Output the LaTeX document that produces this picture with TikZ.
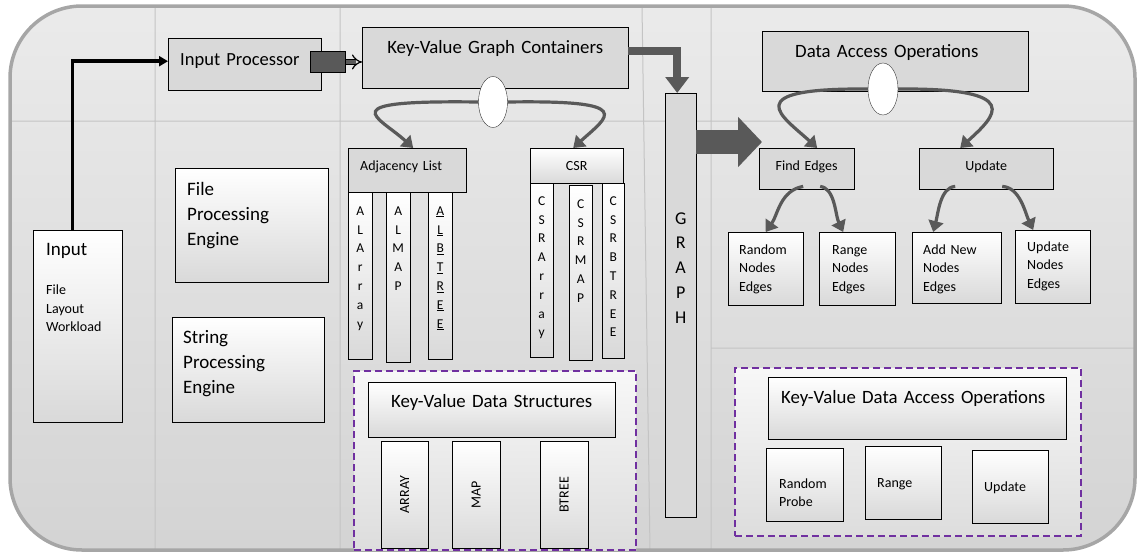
\documentclass[tikz,border=0pt]{standalone}
\usepackage{fontspec}
\setmainfont{Carlito}
\usepackage{graphicx}
\usetikzlibrary{arrows.meta,shapes.geometric}
\definecolor{Frame}{HTML}{A6A6A6}
\definecolor{Grid}{HTML}{C4C4C4}
\definecolor{Panel}{HTML}{D9D9D9}
\definecolor{Slate}{HTML}{595959}
\definecolor{Violet}{HTML}{7030A0}
\tikzset{
  greybox/.style={draw=black, fill=Panel, anchor=north west, inner sep=0pt, align=center},
  glossbox/.style={draw=black, top color=white, bottom color=Panel, anchor=north west,
    inner sep=0pt, align=center},
  groupbox/.style={draw=Violet, line width=2pt, dash pattern=on 7pt off 4pt,
    top color=white!97!black, bottom color=Panel!90, anchor=north west},
  oval/.style={ellipse, draw=black!80, fill=white, inner sep=0pt},
  plug/.style={draw=black, fill=Slate, anchor=north west, line width=0.9pt},
  headfont/.style={font=\fontsize{18.8}{22}\selectfont},
  enginefont/.style={font=\fontsize{19}{25}\selectfont},
  leaffont/.style={font=\fontsize{14}{18.5}\selectfont},
  tabfont/.style={font=\fontsize{14}{16}\selectfont},
  stackfont/.style={font=\fontsize{13.5}{18.8}\selectfont},
  inkflow/.style={-{Triangle[width=10pt,length=9pt]}, line width=3.5pt, draw=black},
  plugflow/.style={-{Implies}, double=Slate, double distance=4pt, line width=1.2pt, draw=black},
  heavyflow/.style={-{Triangle[width=23pt,length=16pt]}, line width=8pt, draw=Slate},
  blockflow/.style={-{Triangle[width=49pt,length=24pt]}, line width=24pt, draw=Slate},
  bendflow/.style={-{Triangle[width=15pt,length=11pt]}, line width=3.2pt, draw=Slate}
}
\begin{document}
\begin{tikzpicture}[x=1pt,y=-1pt]
  \useasboundingbox (0,0) rectangle (1144,557);
  % frame and grid
  \shade[top color=white!92!black, bottom color=black!17, rounded corners=72pt]
    (10,6) rectangle (1135,550);
  \draw[Grid, line width=1pt] (155,6) -- (155,550) (340,6) -- (340,550)
    (642,6) -- (650,550) (711,6) -- (711,550) (10,121) -- (1135,121) (711,348) -- (1135,348);
  \draw[Frame, line width=3.5pt, rounded corners=72pt] (10,6) rectangle (1135,550);

  % input column
  \node[glossbox, align=left, inner xsep=13pt, text width=63pt, text height=25pt,
    text depth=167pt, leaffont] (input) at (33,230)
    {{\fontsize{19}{22}\selectfont Input}\\[21pt]File\\Layout\\Workload};
  \node[glossbox, align=left, inner xsep=12pt, text width=129pt, text height=27pt,
    text depth=87pt, enginefont] (fpe) at (175,168) {File\\Processing\\Engine};
  \node[glossbox, align=left, inner xsep=11pt, text width=130pt, text height=26pt,
    text depth=79pt, enginefont] (spe) at (172,317) {String\\Processing\\Engine};
  \node[greybox, align=left, inner xsep=12pt, text width=129pt, text height=27pt,
    text depth=25pt, font=\fontsize{18.5}{22}\selectfont] (inproc) at (168,38) {Input Processor};
  \node[plug, minimum width=35pt, minimum height=21pt] (plug) at (310,51) {};

  % graph containers
  \node[greybox, text width=266pt, text height=26pt, text depth=35pt, headfont]
    (kvgc) at (362,27) {Key-Value Graph Containers};
  \node[oval, minimum width=29pt, minimum height=51pt] (kvoval) at (493,102) {};
  \node[greybox, align=left, inner xsep=12pt, text width=94pt, text height=22pt,
    text depth=22pt, tabfont] (adj) at (348,148) {Adjacency List};
  \node[glossbox, text width=93pt, text height=22pt, text depth=13pt, tabfont]
    (csr) at (530,148) {CSR};
  \node[glossbox, text width=24pt, text height=23pt, text depth=144pt, stackfont]
    (alarray) at (348,192) {A\\L\\A\\r\\r\\a\\y};
  \node[glossbox, text width=24pt, text height=23pt, text depth=147pt, stackfont]
    (almap) at (386,192) {A\\L\\M\\A\\P};
  \node[glossbox, text width=24pt, text height=23pt, text depth=144pt, stackfont]
    (albtree) at (428,192)
    {\underline{A}\\\underline{L}\\\underline{B}\\\underline{T}\\\underline{R}\\\underline{E}\\\underline{E}};
  \node[glossbox, text width=23pt, text height=22pt, text depth=152pt, stackfont]
    (csrarray) at (530,183) {C\\S\\R\\A\\r\\r\\a\\y};
  \node[glossbox, text width=23pt, text height=23pt, text depth=152pt, stackfont]
    (csrmap) at (569,185) {C\\S\\R\\M\\A\\P};
  \node[glossbox, text width=22pt, text height=22pt, text depth=153pt, stackfont]
    (csrbtree) at (602,183) {C\\S\\R\\B\\T\\R\\E\\E};

  % key-value data structures
  \node[groupbox, minimum width=282pt, minimum height=179pt] (dsgroup) at (353,370) {};
  \node[glossbox, text width=247pt, text height=25pt, text depth=30pt, headfont]
    (kvds) at (368,382) {Key-Value Data Structures};
  \node[glossbox, minimum width=47pt, minimum height=107pt, leaffont]
    (array) at (381,441) {\rotatebox{90}{ARRAY}};
  \node[glossbox, minimum width=48pt, minimum height=107pt, leaffont]
    (map) at (452,441) {\rotatebox{90}{MAP}};
  \node[glossbox, minimum width=48pt, minimum height=107pt, leaffont]
    (btree) at (540,441) {\rotatebox{90}{BTREE}};

  % graph
  \node[greybox, text width=31pt, text height=131pt, text depth=293pt,
    font=\fontsize{18}{24.75}\selectfont] (graph) at (665,93) {G\\R\\A\\P\\H};

  % data access operations
  \node[greybox, align=left, inner xsep=33pt, text width=200pt, text height=26pt,
    text depth=34pt, headfont] (dao) at (762,31) {Data Access Operations};
  \node[oval, minimum width=30pt, minimum height=52pt] (daooval) at (883,89) {};
  \node[greybox, text width=95pt, text height=22pt, text depth=19pt, tabfont]
    (findedges) at (759,148) {Find Edges};
  \node[greybox, text width=134pt, text height=22pt, text depth=19pt, tabfont]
    (update) at (919,148) {Update};
  \node[glossbox, align=left, inner xsep=11pt, text width=53pt, text height=22pt,
    text depth=51pt, leaffont] (rne) at (728,232) {Random\\Nodes\\Edges};
  \node[glossbox, align=left, inner xsep=13pt, text width=50pt, text height=22pt,
    text depth=51pt, leaffont] (rge) at (819,232) {Range\\Nodes\\Edges};
  \node[glossbox, align=left, inner xsep=11pt, text width=67pt, text height=22pt,
    text depth=49pt, leaffont] (ane) at (912,232) {Add New\\Nodes\\Edges};
  \node[glossbox, align=left, inner xsep=12pt, text width=51pt, text height=21pt,
    text depth=52pt, leaffont] (une) at (1015,230) {Update\\Nodes\\Edges};

  % key-value data access operations
  \node[groupbox, minimum width=346pt, minimum height=168pt] (opgroup) at (734,367) {};
  \node[glossbox, align=left, inner xsep=13pt, text width=272pt, text height=26pt,
    text depth=36pt, headfont] (kvdao) at (768,377) {Key-Value Data Access Operations};
  \node[glossbox, align=left, inner xsep=13pt, text width=51pt, text height=40pt,
    text depth=33pt, leaffont] (rprobe) at (766,448) {Random\\Probe};
  \node[glossbox, align=left, inner xsep=12pt, text width=52pt, text height=41pt,
    text depth=32pt, leaffont] (range) at (865,446) {Range};
  \node[glossbox, align=left, inner xsep=12pt, text width=52pt, text height=41pt,
    text depth=32pt, leaffont] (upd) at (972,450) {Update};

  % connectors
  \draw[inkflow] ([xshift=-5pt]input.north) |- ([yshift=3pt]inproc.west);
  \draw[plugflow] (plug.east) -- (plug.east -| kvgc.west);
  \draw[heavyflow] ([yshift=6.5pt]kvgc.east) -| ([xshift=-3.5pt]graph.north);
  \coordinate (fein) at ([xshift=3pt,yshift=6pt]findedges.north west);
  \draw[blockflow] (graph.east |- fein) -- (fein);
  \draw[bendflow] (kvoval.west) .. controls +(-150,-2) and +(-35,-32) .. ([xshift=6pt]adj.north);
  \draw[bendflow] (kvoval.east) .. controls +(130,-2) and +(35,-32) .. ([xshift=-3.5pt]csr.north);
  \draw[bendflow] (daooval.west) .. controls +(-132,-1) and +(-35,-32) .. ([xshift=10.5pt]findedges.north);
  \draw[bendflow] (daooval.east) .. controls +(128,-1) and +(35,-32) .. ([xshift=-26pt]update.north);
  \draw[bendflow] ([xshift=-3.5pt,yshift=3pt]findedges.south) .. controls +(-23,4) and +(12,-17) .. (rne.north);
  \draw[bendflow] ([xshift=13.5pt,yshift=3pt]findedges.south) .. controls +(15,2) and +(-8,-17) .. ([xshift=-14pt]rge.north);
  \draw[bendflow] ([xshift=-31pt,yshift=3pt]update.south) .. controls +(-15,1) and +(5,-19) .. ([xshift=-23.5pt]ane.north);
  \draw[bendflow] ([xshift=16pt,yshift=3pt]update.south) .. controls +(18,1) and +(-8,-17) .. ([xshift=-19.5pt]une.north);
\end{tikzpicture}
\end{document}
